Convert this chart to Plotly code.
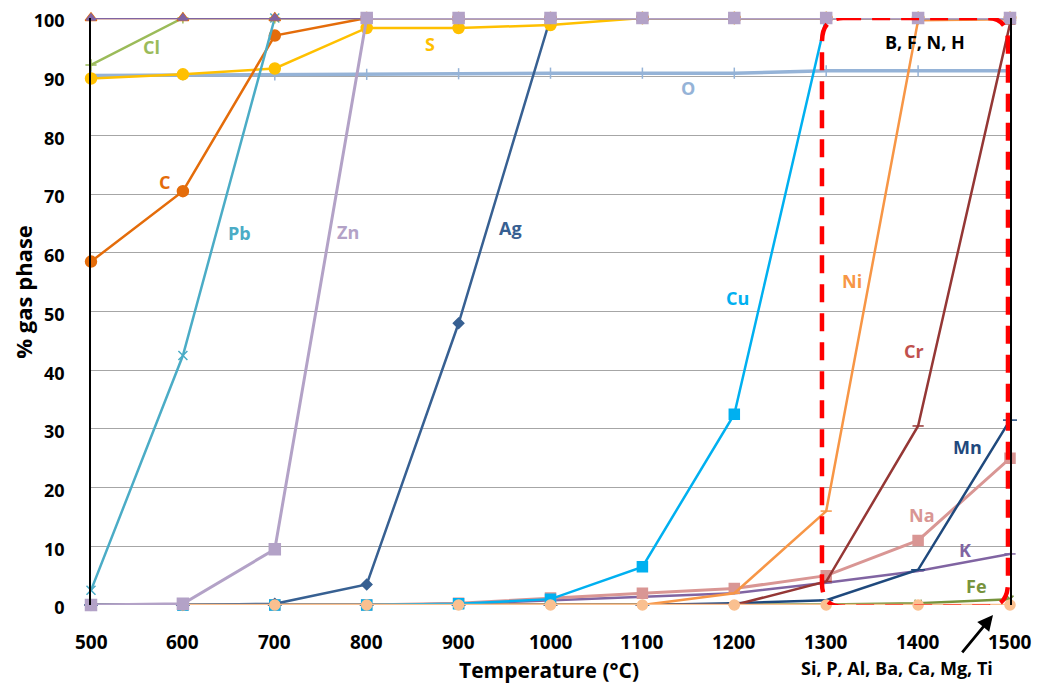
import plotly.graph_objects as go

temps = [500, 600, 700, 800, 900, 1000, 1100, 1200, 1300, 1400, 1500]
y_ticks = [0, 10, 20, 30, 40, 50, 60, 70, 80, 90, 100]

bfnh = [100] * 11
cl = [92, 100, 100, 100, 100, 100, 100, 100, 100, 100, 100]
pb = [2.5, 42.5, 100, 100, 100, 100, 100, 100, 100, 100, 100]
c_ = [58.5, 70.5, 97, 100, 100, 100, 100, 100, 100, 100, 100]
s_ = [89.7, 90.4, 91.4, 98.3, 98.3, 98.8, 100, 100, 100, 100, 100]
o_ = [90.2, 90.3, 90.3, 90.4, 90.5, 90.6, 90.6, 90.6, 91.0, 91.0, 91.0]
zn = [0, 0.2, 9.5, 100, 100, 100, 100, 100, 100, 100, 100]
ag = [0, 0, 0.2, 3.5, 48, 100, 100, 100, 100, 100, 100]
cu = [0, 0, 0, 0, 0.2, 1, 6.5, 32.5, 100, 100, 100]
ni = [0, 0, 0, 0, 0, 0, 0, 2, 16, 99.6, 99.8]
cr = [0, 0, 0, 0, 0, 0, 0, 0, 4, 30.5, 99]
mn = [0, 0, 0, 0, 0, 0, 0, 0.3, 0.8, 6, 31.5]
na = [0, 0, 0, 0, 0.3, 1.2, 2, 2.8, 5, 11, 25]
k_ = [0, 0, 0, 0, 0.2, 0.8, 1.3, 2, 3.8, 5.8, 8.7]
fe = [0, 0, 0, 0, 0, 0, 0, 0, 0.1, 0.3, 1]
rest_t = [600, 700, 800, 900, 1000, 1100, 1200, 1300, 1400, 1500]
rest = [0] * 10

fig = go.Figure()

def add(x, y, color, symbol, msize=8, width=2.5):
    fig.add_trace(go.Scatter(x=x, y=y, mode="lines+markers",
                             line=dict(color=color, width=width),
                             marker=dict(symbol=symbol, size=msize, color=color,
                                         line=dict(color=color, width=1.5)),
                             cliponaxis=False, showlegend=False, hoverinfo="x+y"))

add(temps, o_, "#95B3D7", "line-ns", 8, 3.5)
add(temps, fe, "#77933C", "x-thin", 7)
add(temps, k_, "#8064A2", "line-ew", 8)
add(temps, na, "#D99694", "square", 10, 3)
add(temps, mn, "#1F497D", "line-ew", 10)
add(temps, cr, "#953735", "line-ew", 8)
add(temps, ni, "#F79646", "line-ew", 8)
add(temps, cu, "#00B0F0", "square", 10)
add(temps, ag, "#376092", "diamond", 8)
add(rest_t, rest, "#FAC090", "circle", 10)
add(temps, s_, "#FFC000", "circle", 11)
add(temps, c_, "#E46C0A", "circle", 11)
add(temps, pb, "#4BACC6", "x-thin", 9)
add(temps, cl, "#9BBB59", "cross-thin", 8)
add(temps, bfnh, "#E46C0A", "triangle-up", 10)
add(temps, bfnh, "#8064A2", "triangle-up", 8)
add(temps, zn, "#B3A2C7", "square", 11, 3)

labels = [
    ("Cl", 566, 95.1, "#9BBB59"), ("C", 580.5, 72, "#E46C0A"),
    ("Pb", 662, 63.4, "#4BACC6"), ("Zn", 779.6, 63.5, "#B3A2C7"),
    ("Ag", 956, 64.2, "#376092"), ("S", 869, 95.6, "#FFC000"),
    ("O", 1149.6, 88.1, "#95B3D7"), ("Cu", 1203, 52.3, "#00B0F0"),
    ("Ni", 1328, 55.2, "#F79646"), ("Cr", 1395.5, 43.3, "#C0504D"),
    ("Mn", 1454, 26.9, "#1F497D"), ("Na", 1404, 15.3, "#D99694"),
    ("K", 1451, 9.4, "#8064A2"), ("Fe", 1464, 3.2, "#77933C"),
    ("B, F, N, H", 1407.5, 95.9, "#000000"),
]
for t, x, y, col in labels:
    fig.add_annotation(x=x, y=y, text=f"<b>{t}</b>", showarrow=False,
                       xanchor="center", yanchor="middle",
                       font=dict(size=18, color=col, family="Open Sans"))

# x tick labels (placed lower than Plotly's default offset)
for t in temps:
    fig.add_annotation(x=t, y=-0.063, xref="x", yref="paper", text=f"<b>{t}</b>",
                       showarrow=False, xanchor="center", yanchor="middle",
                       font=dict(size=19, color="#000000", family="Open Sans"))

# axis titles
fig.add_annotation(x=0.498, y=-0.111, xref="paper", yref="paper",
                   xanchor="center", yanchor="middle",
                   text="<b>Temperature (°C)</b>", showarrow=False,
                   font=dict(size=21, color="#000000", family="Open Sans"))
fig.add_annotation(x=-0.0734, y=0.533, xref="paper", yref="paper", textangle=-90,
                   xanchor="center", yanchor="middle",
                   text="<b>% gas phase</b>", showarrow=False,
                   font=dict(size=22, color="#000000", family="Open Sans"))

fig.add_annotation(x=1377, y=-0.107, xref="x", yref="paper",
                   xanchor="center", yanchor="middle",
                   text="<b>Si, P, Al, Ba, Ca, Mg, Ti</b>", showarrow=False,
                   font=dict(size=18, color="#000000", family="Open Sans"))
# arrow pointing at the 1500 °C baseline
fig.add_annotation(x=0.9815, y=-0.017, xref="paper", yref="paper",
                   ax=-32, ay=39, text="", showarrow=True,
                   arrowhead=2, arrowsize=1.1, arrowwidth=2.8, arrowcolor="#000000")

# rounded dashed rectangle
x0, x1, y0, y1 = 1295.4, 1497.8, -0.3, 100
rx, ry = 23, 4.1
path = (f"M {x0+rx},{y1} L {x1-rx},{y1} Q {x1},{y1} {x1},{y1-ry} "
        f"L {x1},{y0+ry} Q {x1},{y0} {x1-rx},{y0} L {x0+rx},{y0} "
        f"Q {x0},{y0} {x0},{y0+ry} L {x0},{y1-ry} Q {x0},{y1} {x0+rx},{y1} Z")
fig.add_shape(type="path", path=path, xref="x", yref="y",
              line=dict(color="#FF0000", width=4.5, dash="18px,11px"), layer="above")

fig.update_layout(
    width=1032, height=679,
    margin=dict(l=83, r=30, t=10, b=82, autoexpand=False),
    paper_bgcolor="white", plot_bgcolor="white",
    font=dict(family="Open Sans", color="#000000"),
    xaxis=dict(range=[500, 1500], tickvals=temps, showticklabels=False,
               showgrid=False, zeroline=False, showline=False, ticks="",
               automargin=False),
    yaxis=dict(range=[0, 100], tickvals=y_ticks,
               ticktext=[f"<b>{v}</b>" for v in y_ticks],
               showgrid=True, gridcolor="#A6A6A6", gridwidth=1, zeroline=False,
               showline=True, linecolor="#000000", linewidth=1.5, mirror=True, ticks="",
               tickfont=dict(size=18), ticklabelstandoff=21, ticklabelshift=3,
               ticklabeloverflow="allow", automargin=False),
)

fig.write_html("out.html")
